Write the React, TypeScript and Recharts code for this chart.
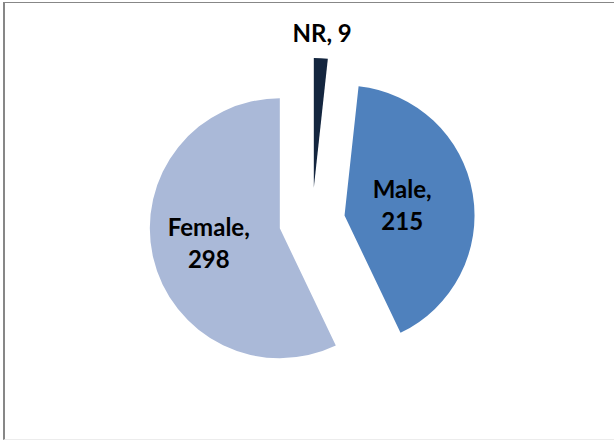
import { Cell, Pie, PieChart } from "recharts";

const categories = ["NR", "Male", "Female"];
const counts = [9, 215, 298];
const colors = ["#14263F", "#4F81BD", "#AAB9D8"];

const W = 614;
const H = 441;
const CX = 312;
const CY = 221;
const R = 130;
const EXPLODE = 33; // Excel style "explode" distance, px
const RAD = Math.PI / 180;

const data = categories.map((name, i) => ({ name, value: counts[i] }));
const total = counts.reduce((a, b) => a + b, 0);

// label distance from its slice centre
const labelRadius: Record<string, number> = {
  NR: R + 24,
  Male: 0.45 * R,
  Female: 0.56 * R,
};

// each slice is pulled out along its own mid angle
function explodeOffset(i: number) {
  const before = counts.slice(0, i).reduce((a, b) => a + b, 0);
  const mid = 90 - ((before + counts[i] / 2) / total) * 360;
  return {
    dx: EXPLODE * Math.cos(mid * RAD),
    dy: -EXPLODE * Math.sin(mid * RAD),
  };
}

function makeLabel(own: number) {
  return (p: any) => {
    if (p.index !== own) return null;
    const r = labelRadius[p.name] ?? R * 0.5;
    const x = p.cx + r * Math.cos(-p.midAngle * RAD);
    const y = p.cy + r * Math.sin(-p.midAngle * RAD);
    const style = {
      fontFamily: "Lato, 'Open Sans', sans-serif",
      fontWeight: 700,
      fontSize: 24,
      fill: "#000",
    };
    if (p.name === "NR") {
      return (
        <text x={x} y={y + 8} textAnchor="middle" style={style}>
          {`${p.name}, ${p.value}`}
        </text>
      );
    }
    return (
      <text x={x} y={y - 8} textAnchor="middle" style={style}>
        <tspan x={x}>{`${p.name},`}</tspan>
        <tspan x={x} dy={32}>
          {p.value}
        </tspan>
      </text>
    );
  };
}

export default function App() {
  return (
    <div
      style={{
        position: "absolute",
        left: 0,
        top: 0,
        width: W,
        height: H,
        background: "#fff",
        overflow: "hidden",
      }}
    >
      <PieChart width={W} height={H} margin={{ top: 0, right: 0, bottom: 0, left: 0 }}>
        {data.map((d, i) => {
          const off = explodeOffset(i);
          return (
            <Pie
              key={d.name}
              data={data}
              dataKey="value"
              nameKey="name"
              cx={CX + off.dx}
              cy={CY + off.dy}
              outerRadius={R}
              startAngle={90}
              endAngle={-270}
              stroke="none"
              labelLine={false}
              label={makeLabel(i)}
              isAnimationActive={false}
            >
              {data.map((c, j) => (
                <Cell key={c.name} fill={j === i ? colors[j] : "none"} />
              ))}
            </Pie>
          );
        })}
      </PieChart>
      <div
        style={{
          position: "absolute",
          left: 3,
          top: 2,
          width: W - 3,
          height: H - 3,
          boxSizing: "border-box",
          borderLeft: "2px solid #878787",
          borderTop: "1px solid #878787",
          borderBottom: "1px solid #ececec",
          pointerEvents: "none",
        }}
      />
    </div>
  );
}
